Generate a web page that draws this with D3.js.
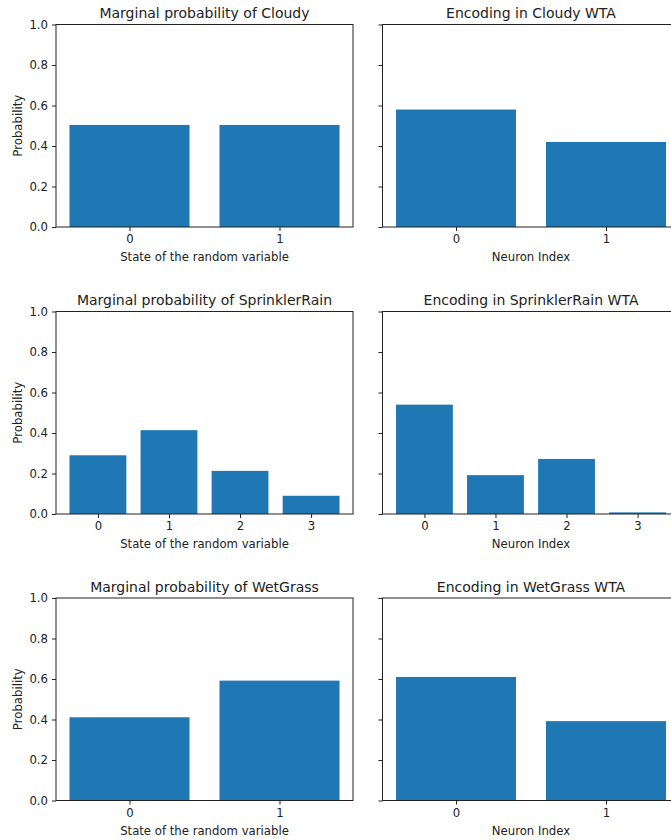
<!doctype html>
<html>
  <head>
    <meta charset="utf-8">
    <script src="https://d3js.org/d3.v7.min.js"></script>
    <style>
      body { margin: 0; background: #fff; }
      text { font-family: "DejaVu Sans", sans-serif; fill: #222; }
      .tick line { stroke: #222; }
      .domain { stroke: none; }
    </style>
  </head>
  <body>
    <script>
    // data
    var variables = ['Cloudy', 'SprinklerRain', 'WetGrass'];
    var states = [['0', '1'], ['0', '1', '2', '3'], ['0', '1']];

    var cloudyMarginal = [0.504, 0.504];
    var cloudyEncoding = [0.58, 0.42];
    var sprinklerRainMarginal = [0.29, 0.414, 0.213, 0.09];
    var sprinklerRainEncoding = [0.54, 0.192, 0.272, 0.008];
    var wetGrassMarginal = [0.411, 0.592];
    var wetGrassEncoding = [0.61, 0.392];

    var yTicks = [0, 0.2, 0.4, 0.6, 0.8, 1.0];

    var marginals = [cloudyMarginal, sprinklerRainMarginal, wetGrassMarginal];
    var encodings = [cloudyEncoding, sprinklerRainEncoding, wetGrassEncoding];

    var width = 671;
    var height = 840;

    var axW = 297;
    var axH = 202.5;
    var colLeft = [56, 382.5];
    var rowTop = [24.5, 311.5, 598];

    var svg = d3.select('body')
              .append('svg')
              .attr('width', width)
              .attr('height', height);

    function panel(col, row, values, title, xlabel) {
      var left = colLeft[col];
      var top = rowTop[row];
      var n = values.length;
      var pad = 0.05 * (n - 1 + 0.8);

      var x = d3.scaleLinear()
                .domain([-0.4 - pad, n - 1 + 0.4 + pad])
                .range([0, axW]);
      var y = d3.scaleLinear()
                .domain([0, 1])
                .range([axH, 0]);

      var g = svg.append('g')
                .attr('transform', 'translate(' + left + ',' + top + ')');

      // bars
      g.selectAll('.bar')
        .data(values)
        .enter()
        .append('rect')
        .attr('class', 'bar')
        .attr('x', function(d, i) { return x(i - 0.4); })
        .attr('width', function(d, i) { return x(i + 0.4) - x(i - 0.4); })
        .attr('y', function(d) { return y(d); })
        .attr('height', function(d) { return y(0) - y(d); })
        .attr('fill', '#1f77b4');

      // y axis
      var yAxis = d3.axisLeft(y)
                .tickValues(yTicks)
                .tickSize(4)
                .tickPadding(4)
                .tickFormat(col === 0 ? d3.format('.1f') : '');
      g.append('g')
        .call(yAxis)
        .selectAll('text')
        .style('font-size', '11.7px');

      // x axis
      var xAxis = d3.axisBottom(x)
                .tickValues(d3.range(n))
                .tickSize(4)
                .tickPadding(4)
                .tickFormat(function(d) { return states[row][d]; });
      g.append('g')
        .attr('transform', 'translate(0,' + axH + ')')
        .call(xAxis)
        .selectAll('text')
        .style('font-size', '11.7px');

      // spines
      g.append('rect')
        .attr('x', 0)
        .attr('y', 0)
        .attr('width', axW)
        .attr('height', axH)
        .attr('fill', 'none')
        .attr('stroke', '#222')
        .attr('stroke-width', 1);

      // title
      g.append('text')
        .attr('x', axW / 2)
        .attr('y', -6.5)
        .attr('text-anchor', 'middle')
        .style('font-size', '14px')
        .text(title);

      // x label
      g.append('text')
        .attr('x', axW / 2)
        .attr('y', axH + 34)
        .attr('text-anchor', 'middle')
        .style('font-size', '11.7px')
        .text(xlabel);

      // y label, only left column
      if (col === 0) {
        g.append('text')
          .attr('transform', 'translate(' + (21.5 - left) + ',' + (axH / 2) + ') rotate(-90)')
          .attr('text-anchor', 'middle')
          .style('font-size', '11.7px')
          .text('Probability');
      }
    }

    variables.forEach(function(v, i) {
      panel(0, i, marginals[i], 'Marginal probability of ' + v, 'State of the random variable');
      panel(1, i, encodings[i], 'Encoding in ' + v + ' WTA', 'Neuron Index');
    });
    </script>
  </body>
</html>
